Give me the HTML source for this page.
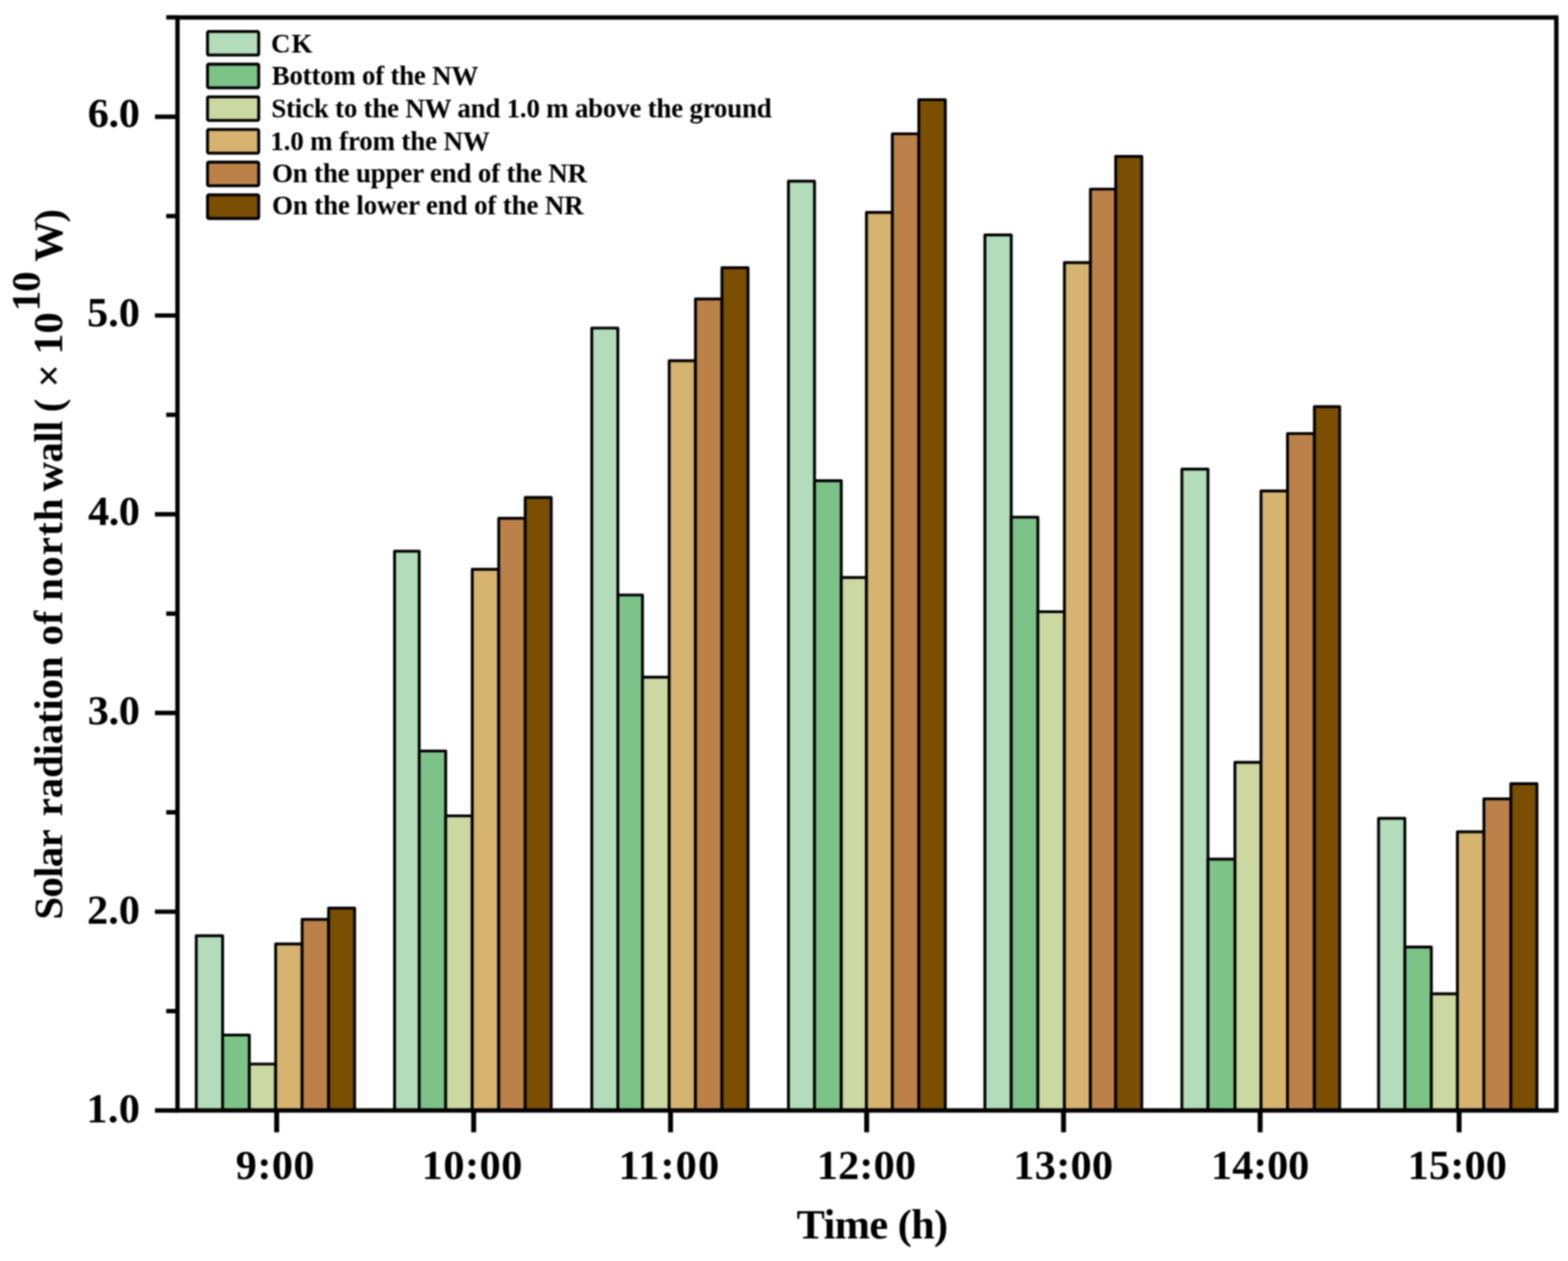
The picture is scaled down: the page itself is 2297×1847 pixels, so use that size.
<!DOCTYPE html>
<html lang="en"><head><meta charset="utf-8"><title>Solar radiation of north wall</title>
<style>html,body{margin:0;padding:0;background:#fff;}body{width:2297px;height:1847px;overflow:hidden;}svg{display:block;}text{font-family:"Liberation Serif","DejaVu Serif",serif;font-weight:bold;fill:#000;white-space:pre;}</style>
</head><body>
<svg width="2297" height="1847" viewBox="0 0 2297 1847">
<defs><filter id="soft" x="0" y="0" width="2297" height="1847" filterUnits="userSpaceOnUse" color-interpolation-filters="sRGB"><feGaussianBlur stdDeviation="1.1"/></filter></defs>
<rect x="0" y="0" width="2297" height="1847" fill="#ffffff"/>
<g id="chart" filter="url(#soft)">
<g id="bars" stroke="#000" stroke-width="4.2" stroke-linejoin="round">
<rect x="287.5" y="1370.6" width="38.6" height="255.9" fill="#b3dcba"/>
<rect x="326.1" y="1516.0" width="39.1" height="110.5" fill="#7dc387"/>
<rect x="365.2" y="1558.5" width="38.6" height="68.0" fill="#ccd8a1"/>
<rect x="403.8" y="1382.6" width="38.8" height="243.9" fill="#d6b46f"/>
<rect x="442.6" y="1346.7" width="38.8" height="279.8" fill="#bb8149"/>
<rect x="481.4" y="1330.1" width="38.1" height="296.4" fill="#7a4f02"/>
<rect x="578.0" y="807.4" width="36.1" height="819.1" fill="#b3dcba"/>
<rect x="614.1" y="1100.0" width="38.8" height="526.5" fill="#7dc387"/>
<rect x="652.9" y="1195.0" width="38.9" height="431.5" fill="#ccd8a1"/>
<rect x="691.8" y="833.9" width="38.8" height="792.6" fill="#d6b46f"/>
<rect x="730.6" y="759.1" width="38.8" height="867.4" fill="#bb8149"/>
<rect x="769.4" y="728.6" width="38.1" height="897.9" fill="#7a4f02"/>
<rect x="866.9" y="480.5" width="38.2" height="1146.0" fill="#b3dcba"/>
<rect x="905.1" y="871.5" width="36.1" height="755.0" fill="#7dc387"/>
<rect x="941.2" y="991.9" width="39.1" height="634.6" fill="#ccd8a1"/>
<rect x="980.3" y="528.4" width="38.5" height="1098.1" fill="#d6b46f"/>
<rect x="1018.8" y="437.9" width="38.8" height="1188.6" fill="#bb8149"/>
<rect x="1057.6" y="392.1" width="38.2" height="1234.4" fill="#7a4f02"/>
<rect x="1155.0" y="265.3" width="38.2" height="1361.2" fill="#b3dcba"/>
<rect x="1193.2" y="704.2" width="39.2" height="922.3" fill="#7dc387"/>
<rect x="1232.4" y="845.9" width="36.9" height="780.6" fill="#ccd8a1"/>
<rect x="1269.3" y="311.1" width="37.9" height="1315.4" fill="#d6b46f"/>
<rect x="1307.2" y="196.0" width="38.8" height="1430.5" fill="#bb8149"/>
<rect x="1346.0" y="146.0" width="38.8" height="1480.5" fill="#7a4f02"/>
<rect x="1442.8" y="344.1" width="38.6" height="1282.4" fill="#b3dcba"/>
<rect x="1481.4" y="757.5" width="39.0" height="869.0" fill="#7dc387"/>
<rect x="1520.4" y="896.0" width="38.9" height="730.5" fill="#ccd8a1"/>
<rect x="1559.3" y="384.6" width="38.1" height="1241.9" fill="#d6b46f"/>
<rect x="1597.4" y="277.0" width="37.0" height="1349.5" fill="#bb8149"/>
<rect x="1634.4" y="229.1" width="38.2" height="1397.4" fill="#7a4f02"/>
<rect x="1731.4" y="687.2" width="38.2" height="939.3" fill="#b3dcba"/>
<rect x="1769.6" y="1258.3" width="39.5" height="368.2" fill="#7dc387"/>
<rect x="1809.1" y="1116.6" width="38.2" height="509.9" fill="#ccd8a1"/>
<rect x="1847.3" y="719.2" width="38.8" height="907.3" fill="#d6b46f"/>
<rect x="1886.1" y="635.0" width="39.4" height="991.5" fill="#bb8149"/>
<rect x="1925.5" y="595.6" width="37.0" height="1030.9" fill="#7a4f02"/>
<rect x="2019.5" y="1198.6" width="38.5" height="427.9" fill="#b3dcba"/>
<rect x="2058.0" y="1387.2" width="38.8" height="239.3" fill="#7dc387"/>
<rect x="2096.8" y="1455.7" width="38.2" height="170.8" fill="#ccd8a1"/>
<rect x="2135.0" y="1218.3" width="38.8" height="408.2" fill="#d6b46f"/>
<rect x="2173.8" y="1170.2" width="39.5" height="456.3" fill="#bb8149"/>
<rect x="2213.3" y="1147.8" width="38.2" height="478.7" fill="#7a4f02"/>
</g>
<g id="axes" stroke="#000" stroke-width="6.4" fill="none" stroke-linecap="butt">
<rect x="260.0" y="25.6" width="2019.9" height="1600.9"/>
<line x1="227" y1="1626.5" x2="260.0" y2="1626.5"/>
<line x1="227" y1="1335.4" x2="260.0" y2="1335.4"/>
<line x1="227" y1="1044.3" x2="260.0" y2="1044.3"/>
<line x1="227" y1="753.2" x2="260.0" y2="753.2"/>
<line x1="227" y1="462.1" x2="260.0" y2="462.1"/>
<line x1="227" y1="171.0" x2="260.0" y2="171.0"/>
<line x1="243.5" y1="1481.0" x2="260.0" y2="1481.0"/>
<line x1="243.5" y1="1189.8" x2="260.0" y2="1189.8"/>
<line x1="243.5" y1="898.8" x2="260.0" y2="898.8"/>
<line x1="243.5" y1="607.6" x2="260.0" y2="607.6"/>
<line x1="243.5" y1="316.5" x2="260.0" y2="316.5"/>
<line x1="243.5" y1="25.4" x2="260.0" y2="25.4"/>
<line x1="405.3" y1="1626.5" x2="405.3" y2="1658.5" stroke-width="7.2"/>
<line x1="693.9" y1="1626.5" x2="693.9" y2="1658.5" stroke-width="7.2"/>
<line x1="982.3" y1="1626.5" x2="982.3" y2="1658.5" stroke-width="7.2"/>
<line x1="1269.6" y1="1626.5" x2="1269.6" y2="1658.5" stroke-width="7.2"/>
<line x1="1558.0" y1="1626.5" x2="1558.0" y2="1658.5" stroke-width="7.2"/>
<line x1="1846.0" y1="1626.5" x2="1846.0" y2="1658.5" stroke-width="7.2"/>
<line x1="2137.5" y1="1626.5" x2="2137.5" y2="1658.5" stroke-width="7.2"/>
</g>
<g id="legend" stroke="#000" stroke-width="4.3">
<rect x="304" y="46.1" width="75" height="34.6" rx="2" ry="2" fill="#b3dcba"/>
<rect x="304" y="94.0" width="75" height="34.6" rx="2" ry="2" fill="#7dc387"/>
<rect x="304" y="141.8" width="75" height="34.6" rx="2" ry="2" fill="#ccd8a1"/>
<rect x="304" y="189.7" width="75" height="34.6" rx="2" ry="2" fill="#d6b46f"/>
<rect x="304" y="237.5" width="75" height="34.6" rx="2" ry="2" fill="#bb8149"/>
<rect x="304" y="285.4" width="75" height="34.6" rx="2" ry="2" fill="#7a4f02"/>
</g>
<g id="texts">
<text id="lg0" font-size="39.5" textLength="60.8" lengthAdjust="spacing" x="397.0" y="76.8">CK</text>
<text id="lg1" font-size="39.5" textLength="302.7" lengthAdjust="spacing" x="398.0" y="124.3">Bottom of the NW</text>
<text id="lg2" font-size="39.5" textLength="733.1" lengthAdjust="spacing" x="397.4" y="172.2">Stick to the NW and 1.0 m above the ground</text>
<text id="lg3" font-size="39.5" textLength="321.6" lengthAdjust="spacing" x="396.0" y="219.6">1.0 m from the NW</text>
<text id="lg4" font-size="39.5" textLength="461.6" lengthAdjust="spacing" x="398.4" y="267.4">On the upper end of the NR</text>
<text id="lg5" font-size="39.5" textLength="456.6" lengthAdjust="spacing" x="398.4" y="314.4">On the lower end of the NR</text>
<text id="yt0" font-size="62" textLength="78.6" lengthAdjust="spacing" x="126.5" y="1644.3">1.0</text>
<text id="yt1" font-size="62" textLength="77.7" lengthAdjust="spacing" x="127.4" y="1352.6">2.0</text>
<text id="yt2" font-size="62" textLength="76.7" lengthAdjust="spacing" x="128.4" y="1061.0">3.0</text>
<text id="yt3" font-size="62" textLength="76.1" lengthAdjust="spacing" x="129.0" y="769.3">4.0</text>
<text id="yt4" font-size="62" textLength="77.7" lengthAdjust="spacing" x="127.4" y="477.7">5.0</text>
<text id="yt5" font-size="62" textLength="76.7" lengthAdjust="spacing" x="128.4" y="186.0">6.0</text>
<text id="xt0" font-size="62" textLength="115.5" lengthAdjust="spacing" x="345.3" y="1726.5">9:00</text>
<text id="xt1" font-size="62" textLength="147.5" lengthAdjust="spacing" x="617.8" y="1726.5">10:00</text>
<text id="xt2" font-size="62" textLength="147.5" lengthAdjust="spacing" x="905.9" y="1726.5">11:00</text>
<text id="xt3" font-size="62" textLength="145.4" lengthAdjust="spacing" x="1196.5" y="1726.5">12:00</text>
<text id="xt4" font-size="62" textLength="146.0" lengthAdjust="spacing" x="1484.5" y="1726.5">13:00</text>
<text id="xt5" font-size="62" textLength="144.0" lengthAdjust="spacing" x="1774.1" y="1726.5">14:00</text>
<text id="xt6" font-size="62" textLength="145.5" lengthAdjust="spacing" x="2062.1" y="1726.5">15:00</text>
<text id="xtitle" font-size="62" textLength="222.0" lengthAdjust="spacing" x="1167.0" y="1814.4">Time (h)</text>
<text id="y_solar" font-size="60" textLength="132.3" lengthAdjust="spacing" transform="translate(90.8,1347.0) rotate(-90)">Solar</text>
<text id="y_radiation" font-size="60" textLength="234.1" lengthAdjust="spacing" transform="translate(90.8,1195.5) rotate(-90)">radiation</text>
<text id="y_of" font-size="60" textLength="50.8" lengthAdjust="spacing" transform="translate(90.8,945.5) rotate(-90)">of</text>
<text id="y_north" font-size="60" textLength="150.0" lengthAdjust="spacing" transform="translate(90.8,880.0) rotate(-90)">north</text>
<text id="y_wall" font-size="60" textLength="104.0" lengthAdjust="spacing" transform="translate(90.8,720.0) rotate(-90)">wall</text>
<text id="y_lp" font-size="60" transform="translate(90.8,604.0) rotate(-90)">(</text>
<text id="y_times" font-size="60" font-weight="normal" transform="translate(90.8,567.5) rotate(-90)">×</text>
<text id="y_ten" font-size="62" textLength="61.9" lengthAdjust="spacing" transform="translate(90.8,519.5) rotate(-90)">10</text>
<text id="y_sup" font-size="60" textLength="58.5" lengthAdjust="spacing" transform="translate(58.0,456.0) rotate(-90)">10</text>
<text id="y_W" font-size="60" transform="translate(90.8,383.5) rotate(-90)">W</text>
<text id="y_rp" font-size="60" transform="translate(90.8,326.0) rotate(-90)">)</text>
</g>
</g>
</svg>
</body></html>
